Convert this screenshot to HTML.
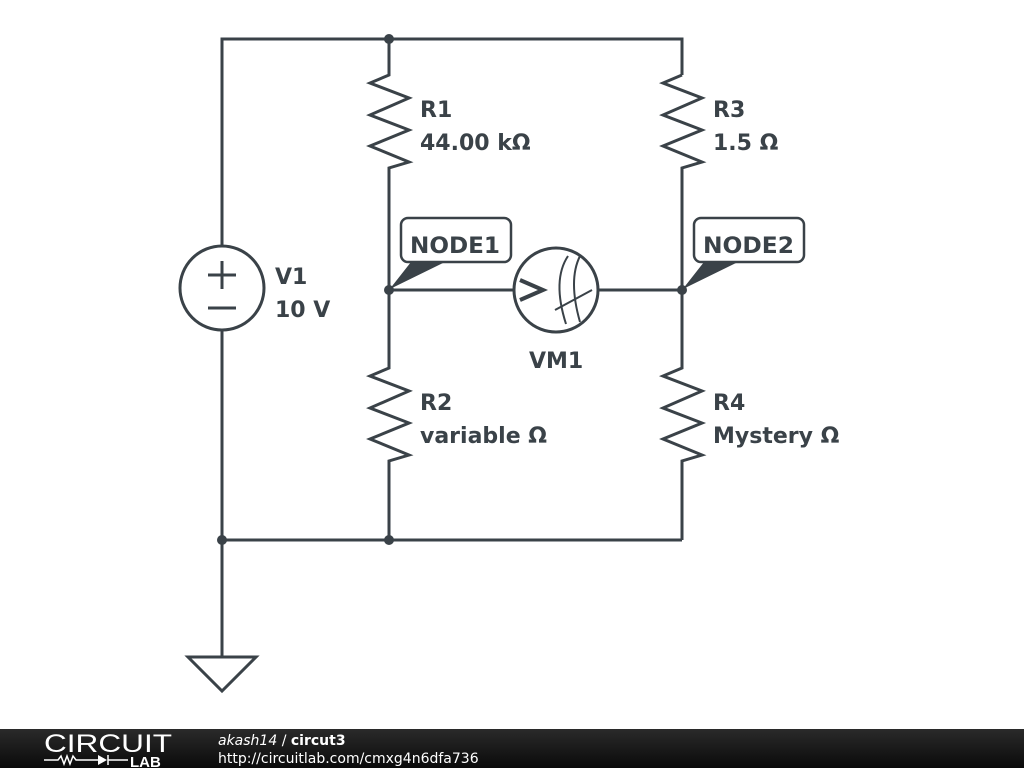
<!DOCTYPE html>
<html><head><meta charset="utf-8"><style>
html,body{margin:0;padding:0;background:#fff;width:1024px;height:768px;overflow:hidden}
svg{position:absolute;left:0;top:0}
.t{font-family:"DejaVu Sans","Liberation Sans",sans-serif;font-weight:bold;font-size:22px;fill:#3a4248}
</style></head><body>
<svg width="1024" height="768" viewBox="0 0 1024 768">
<g stroke="#3a4248" stroke-width="3" fill="none" stroke-linejoin="miter">
<polyline points="222,246 222,39 682,39 682,75"/>
<line x1="222" y1="330" x2="222" y2="657"/>
<line x1="222" y1="540" x2="682" y2="540"/>
<polyline points="389,39 389,75 370,83 409,98 370,115 409,130 370,146 409,162 389,168 389,368 370,376 409,391 370,408 409,423 370,439 409,455 389,461 389,540"/>
<polyline points="682,75 663,83 702,98 663,115 702,130 663,146 702,162 682,168 682,368 663,376 702,391 663,408 702,423 663,439 702,455 682,461 682,540"/>
<circle cx="222" cy="288" r="42"/>
<line x1="208" y1="275" x2="236" y2="275"/>
<line x1="222" y1="261" x2="222" y2="289"/>
<line x1="208" y1="308" x2="236" y2="308"/>
<polygon points="188,657 256,657 222,691"/>
<line x1="389" y1="290" x2="514" y2="290"/>
<line x1="598" y1="290" x2="682" y2="290"/>
<circle cx="556" cy="290" r="42"/>
<polyline points="520,280 543,290 520,300" stroke-width="4"/>
<path d="M568,256 Q552,280 566,324" stroke-width="2"/>
<path d="M580,256 Q568,280 580,322" stroke-width="2"/>
<line x1="555" y1="310" x2="592" y2="290" stroke-width="2"/>
<rect x="401" y="218" width="110" height="44" rx="7" stroke-width="2.5" fill="#fff"/>
<rect x="694" y="218" width="110" height="44" rx="7" stroke-width="2.5" fill="#fff"/>
</g>
<g fill="#3a4248">
<polygon points="389,290 411,262 445,262 392,288"/>
<polygon points="682,290 704,262 738,262 685,288"/>
<circle cx="389" cy="39" r="5"/>
<circle cx="389" cy="290" r="5"/>
<circle cx="682" cy="290" r="5"/>
<circle cx="222" cy="540" r="5"/>
<circle cx="389" cy="540" r="5"/>
</g>
<text class="t" x="420" y="117">R1</text>
<text class="t" x="420" y="150">44.00 kΩ</text>
<text class="t" x="713" y="117">R3</text>
<text class="t" x="713" y="150">1.5 Ω</text>
<text class="t" x="275" y="284">V1</text>
<text class="t" x="275" y="317">10 V</text>
<text class="t" x="410" y="253" textLength="90" lengthAdjust="spacingAndGlyphs">NODE1</text>
<text class="t" x="703" y="253" textLength="91" lengthAdjust="spacingAndGlyphs">NODE2</text>
<text class="t" x="529" y="368">VM1</text>
<text class="t" x="420" y="410">R2</text>
<text class="t" x="420" y="443">variable Ω</text>
<text class="t" x="713" y="410">R4</text>
<text class="t" x="713" y="443">Mystery Ω</text>
<defs><linearGradient id="g" x1="0" y1="0" x2="0" y2="1"><stop offset="0" stop-color="#2a2a2a"/><stop offset="1" stop-color="#0a0a0a"/></linearGradient></defs>
<rect x="0" y="729" width="1024" height="39" fill="url(#g)"/>
<text x="44" y="752" font-family="Liberation Sans,sans-serif" font-size="25" fill="#fff" textLength="128" lengthAdjust="spacingAndGlyphs">CIRCUIT</text>
<g stroke="#fff" stroke-width="1.5" fill="none">
<polyline points="44,760 58,760 61,756 64,764 67,756 70,764 73,756 76,760 98,760"/>
<line x1="108" y1="760" x2="128" y2="760"/>
<line x1="108" y1="755" x2="108" y2="765"/>
</g>
<polygon points="98,755 98,765 107,760" fill="#fff"/>
<text x="130" y="767" font-family="Liberation Sans,sans-serif" font-weight="bold" font-size="15" fill="#fff">LAB</text>
<text x="218" y="745" font-family="DejaVu Sans,sans-serif" font-size="14" fill="#fff"><tspan font-style="italic">akash14</tspan> / <tspan font-weight="bold">circut3</tspan></text>
<text x="218" y="763" font-family="DejaVu Sans,sans-serif" font-size="14" fill="#fff">http://circuitlab.com/cmxg4n6dfa736</text>
</svg>
</body></html>
